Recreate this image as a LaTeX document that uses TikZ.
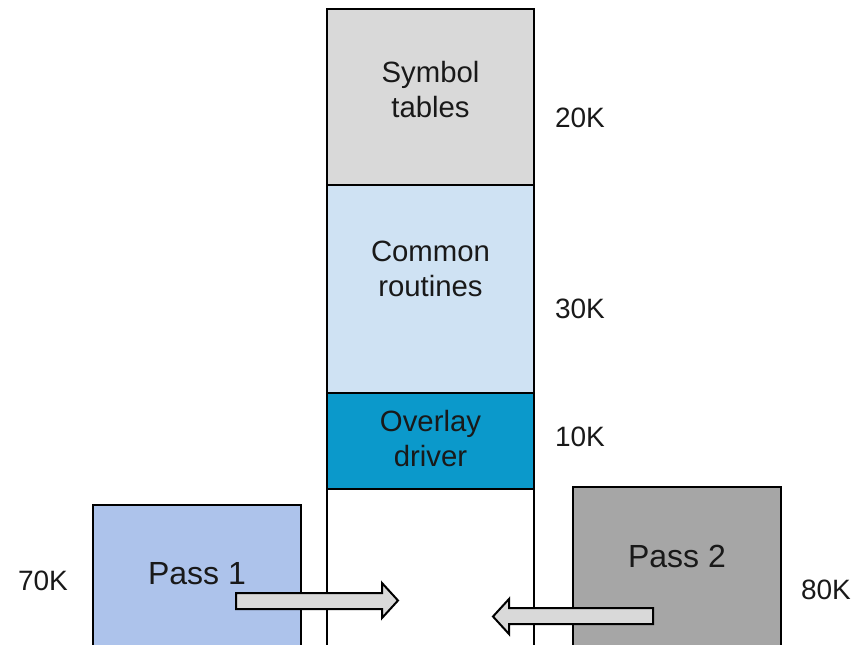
\documentclass[tikz,border=0pt]{standalone}
\usepackage{fontspec}
\setmainfont{Liberation Sans}
\begin{document}
\begin{tikzpicture}[x=0.75pt,y=-0.75pt,
  box/.style={draw=black,line width=1.5pt},
  lbl/.style={font=\fontsize{21}{24.75}\selectfont,align=center,text=black!90},
  inbox/.style={font=\fontsize{22}{26}\selectfont,align=center,text=black!90},
  passlbl/.style={font=\fontsize{24}{28}\selectfont,align=center,text=black!90},
  blockarrow/.style={draw=black,line width=1.5pt,fill=gray!30,line join=miter}]
\useasboundingbox (0,0) rectangle (864,644);
\clip (0,0) rectangle (864,644);
\definecolor{symc}{HTML}{D9D9D9}
\definecolor{comc}{HTML}{CFE2F3}
\definecolor{ovc}{HTML}{0B99CB}
\definecolor{p1c}{HTML}{ADC3EB}
\definecolor{p2c}{HTML}{A6A6A6}
\definecolor{arc}{HTML}{D9D9D9}
% column
\draw[box,fill=symc] (327,9) rectangle (534,185);
\draw[box,fill=comc] (327,185) rectangle (534,393);
\draw[box,fill=ovc] (327,393) rectangle (534,489);
\draw[box,fill=white] (327,489) rectangle (534,700);
\node[inbox] (sym) at (430.5,89.5) {Symbol\\tables};
\node[inbox] (com) at (430.5,269) {Common\\routines};
\node[inbox] (ov) at (430.5,438.5) {Overlay\\driver};
% passes
\draw[box,fill=p1c] (93,505) rectangle (301,700);
\draw[box,fill=p2c] (573,487) rectangle (781,700);
\node[passlbl] (p1) at (197,574) {Pass 1};
\node[passlbl] (p2) at (677,556) {Pass 2};
% sizes
\node[lbl] (k20) at (580,118) {20K};
\node[lbl] (k30) at (580,309) {30K};
\node[lbl] (k10) at (580,437) {10K};
\node[lbl] (k70) at (43,581) {70K};
\node[lbl] (k80) at (826,590) {80K};
% block arrows
\draw[blockarrow,fill=arc] (236,593) -- (382,593) -- (382,583) -- (398,600.5) -- (382,618) -- (382,609) -- (236,609) -- cycle;
\draw[blockarrow,fill=arc] (653,608) -- (509,608) -- (509,599) -- (493,616.5) -- (509,634) -- (509,624) -- (653,624) -- cycle;
\end{tikzpicture}
\end{document}
